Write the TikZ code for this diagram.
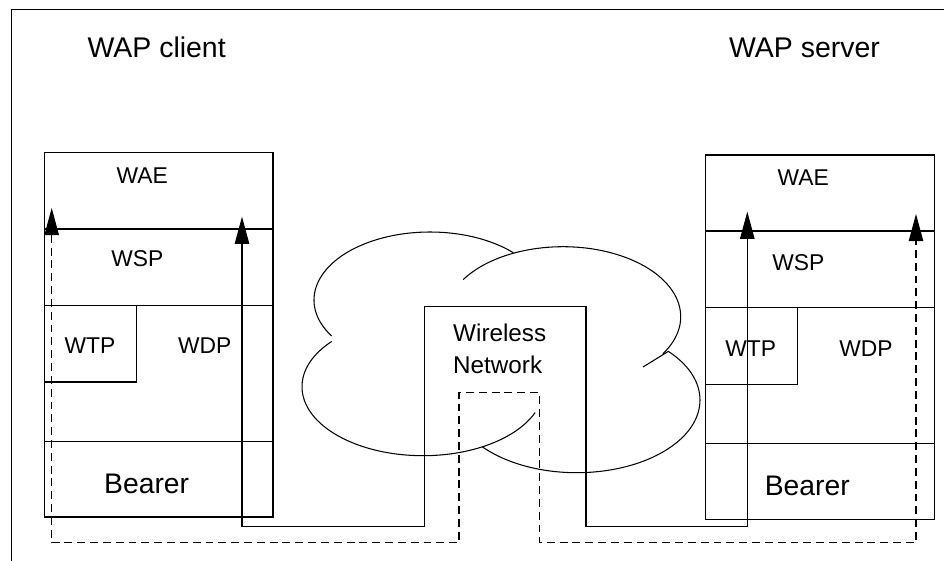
\documentclass[tikz,border=0pt]{standalone}
\usepackage{fontspec}
\setmainfont{Liberation Sans}
\usetikzlibrary{calc, arrows.meta}

\begin{document}
\begin{tikzpicture}[x=0.02cm, y=-0.02cm, line width=0.6pt,
    >={Triangle[length=15.4pt, width=8.2pt]},
    txt/.style={anchor=base, inner sep=0pt, font=\fontsize{13}{15}\selectfont},
    big/.style={anchor=base, inner sep=0pt, font=\fontsize{16.2}{19}\selectfont},
    net/.style={anchor=base west, inner sep=0pt, font=\fontsize{13.8}{16}\selectfont},
    pipe/.style={dash pattern=on 4.5pt off 2.8pt}]
    \useasboundingbox (0,0) rectangle (944,561);

    % frame
    \coordinate (F1) at (11.7,561);
    \coordinate (F2) at (11.7,9.3);
    \coordinate (F3) at (944,9.3);
    \draw (F1) -- (F2) -- (F3);

    \node[big] (cl) at (156.7,57.3) {WAP client};
    \node[big] (sv) at (804.5,57.3) {WAP server};

    % client stack
    \coordinate (C1) at (44.3,152.7);
    \coordinate (C2) at (273,517);
    \draw (C1) rectangle (C2);
    \draw (44.3,229) -- (273,229);
    \draw (44.3,305.7) -- (273,305.7);
    \draw (44.3,441.7) -- (273,441.7);
    \draw (136.7,305.7) -- (136.7,382) -- (44.3,382);

    \node[txt] (cwae) at (142.2,183.3) {WAE};
    \node[txt] (cwsp) at (137.3,266.7) {WSP};
    \node[txt] (cwtp) at (90,353.3) {WTP};
    \node[txt] (cwdp) at (204.7,353.3) {WDP};
    \node[txt, font=\fontsize{16.1}{19}\selectfont] (cbr) at (146.7,493.3) {Bearer};

    % server stack
    \coordinate (S1) at (705.7,155);
    \coordinate (S2) at (934.3,519.7);
    \draw (S1) rectangle (S2);
    \draw (705.7,231) -- (934.3,231);
    \draw (705.7,307.7) -- (934.3,307.7);
    \draw (705.7,443.7) -- (934.3,443.7);
    \draw (797.3,307.7) -- (797.3,384.3) -- (705.7,384.3);

    \node[txt] (swae) at (803.3,185) {WAE};
    \node[txt] (swsp) at (798.3,270) {WSP};
    \node[txt] (swtp) at (750.7,356) {WTP};
    \node[txt] (swdp) at (866,356) {WDP};
    \node[txt, font=\fontsize{16.1}{19}\selectfont] (sbr) at (807.3,495) {Bearer};

    % clouds
    \coordinate (K1) at (430,300);
    \coordinate (K2) at (423,386.7);
    \coordinate (K3) at (563,316.7);
    \coordinate (K4) at (576.7,400);
    \draw (K1) ++(148:116 and 68) arc[start angle=148, end angle=316, x radius=116, y radius=68];
    \draw (K2) ++(221:121 and 69) arc[start angle=221, end angle=22, x radius=121, y radius=69];
    \draw (K3) ++(212:117.7 and 70) arc[start angle=212, end angle=392, x radius=117.7, y radius=70];
    \draw (643,367) -- ($(K4)+(-42:123.3 and 72.7)$)
        arc[start angle=-42, end angle=140, x radius=123.3, y radius=72.7];

    \node[net] (wl) at (452.7,341.7) {Wireless};
    \node[net] (nw) at (452.7,373.3) {Network};

    % connectors
    \coordinate (CS) at (242,216.7);
    \coordinate (SS) at (747.3,211.7);
    \coordinate (CD) at (51.7,208);
    \coordinate (SD) at (916,214);
    \coordinate (NW) at (424.7,306.7);
    \coordinate (NE) at (586,306.7);
    \coordinate (DW) at (459,392.7);
    \coordinate (DE) at (539.3,392.7);
    \coordinate (RS) at (0,526.7);
    \coordinate (RD) at (0,542.7);

    \draw[<->] (CS) -- (CS |- RS) -| (NW) -- (NE) |- (SS |- RS) -- (SS);
    \draw[<->, pipe] (CD) -- (CD |- RD) -| (DW) -- (DE) |- (SD |- RD) -- (SD);
\end{tikzpicture}
\end{document}
